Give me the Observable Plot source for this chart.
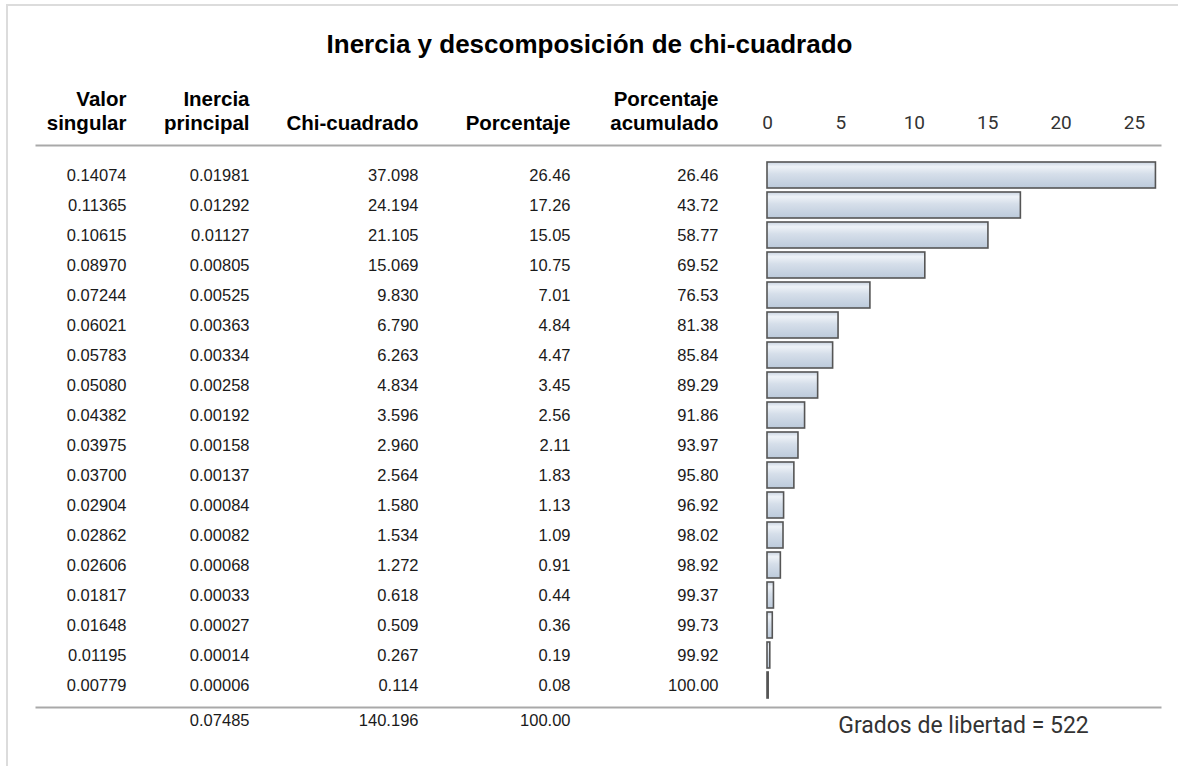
<!DOCTYPE html>
<html>
<head>
<meta charset="utf-8">
<script src="https://cdn.jsdelivr.net/npm/d3@7"></script>
<script src="https://cdn.jsdelivr.net/npm/@observablehq/plot@0.6"></script>
<style>
  html, body { margin: 0; padding: 0; background: #fff; }
  #page { position: relative; width: 1178px; height: 766px; overflow: hidden; }
  #edge { position: absolute; left: 6px; top: 4px; right: -4px; bottom: -4px;
          border-top: 2px solid #dcdcdc; border-left: 2px solid #dcdcdc; }
  #chart { position: absolute; left: 0; top: 0; }
</style>
</head>
<body>
<div id="page"><div id="edge"></div><div id="chart"></div></div>
<script>
// Correspondence analysis: inertia and chi-square decomposition per dimension
const dimensions = [1, 2, 3, 4, 5, 6, 7, 8, 9, 10, 11, 12, 13, 14, 15, 16, 17, 18];
const valorSingular = [0.14074, 0.11365, 0.10615, 0.08970, 0.07244, 0.06021, 0.05783, 0.05080, 0.04382,
                       0.03975, 0.03700, 0.02904, 0.02862, 0.02606, 0.01817, 0.01648, 0.01195, 0.00779];
const inerciaPrincipal = [0.01981, 0.01292, 0.01127, 0.00805, 0.00525, 0.00363, 0.00334, 0.00258, 0.00192,
                          0.00158, 0.00137, 0.00084, 0.00082, 0.00068, 0.00033, 0.00027, 0.00014, 0.00006];
const chiCuadrado = [37.098, 24.194, 21.105, 15.069, 9.830, 6.790, 6.263, 4.834, 3.596,
                     2.960, 2.564, 1.580, 1.534, 1.272, 0.618, 0.509, 0.267, 0.114];
const porcentaje = [26.46, 17.26, 15.05, 10.75, 7.01, 4.84, 4.47, 3.45, 2.56,
                    2.11, 1.83, 1.13, 1.09, 0.91, 0.44, 0.36, 0.19, 0.08];
const porcentajeAcumulado = [26.46, 43.72, 58.77, 69.52, 76.53, 81.38, 85.84, 89.29, 91.86,
                             93.97, 95.80, 96.92, 98.02, 98.92, 99.37, 99.73, 99.92, 100.00];
const totales = ["", "0.07485", "140.196", "100.00", ""];
const gradosLibertad = 522;
const axisTicks = [0, 5, 10, 15, 20, 25];
const titulo = "Inercia y descomposición de chi-cuadrado";
const encabezados = ["Valor\nsingular", "Inercia\nprincipal", "Chi-cuadrado", "Porcentaje", "Porcentaje\nacumulado"];

// Table layout: right edge of each text column, measured from the left margin
const marginLeft = 36;
const columnRight = [90, 213, 382, 534, 682];

const rows = dimensions.map((dim, i) => ({
  dim,
  valor: valorSingular[i],
  inercia: inerciaPrincipal[i],
  chi: chiCuadrado[i],
  pct: porcentaje[i],
  acum: porcentajeAcumulado[i]
}));

const sans = "'Liberation Sans', Arial, sans-serif";
const rowFont = {fontFamily: sans, fontSize: 16.5, fill: "#1a1a1a"};
const headFont = {fontFamily: sans, fontSize: 20.5, fontWeight: "bold", fill: "#000"};

// formatted cells of each body column
const columnFormats = [
  d => d.valor.toFixed(5),
  d => d.inercia.toFixed(5),
  d => d.chi.toFixed(3),
  d => d.pct.toFixed(2),
  d => d.acum.toFixed(2)
];

const bodyMarks = columnFormats.map((fmt, col) =>
  Plot.text(rows, {y: "dim", text: fmt, frameAnchor: "left", textAnchor: "end",
    dx: columnRight[col], ...rowFont}));

const headerMarks = encabezados.map((h, col) =>
  Plot.text([h], {text: d => d, frameAnchor: "top-left", textAnchor: "end", lineAnchor: "bottom",
    dx: columnRight[col], dy: -16, lineHeight: 1.17, ...headFont}));

const totalMarks = totales.map((t, col) => t &&
  Plot.text([t], {text: d => d, frameAnchor: "bottom-left", textAnchor: "end",
    dx: columnRight[col], dy: 18, ...rowFont})).filter(Boolean);

const chart = Plot.plot({
  width: 1178,
  height: 766,
  marginTop: 145,
  marginBottom: 59,
  marginLeft,
  marginRight: 18,
  x: {domain: [0, 25], range: [767, 1134], axis: null},
  y: {domain: dimensions, range: [155, 704], paddingInner: 0.14, paddingOuter: 0.07, axis: null},
  marks: [
    // header and footer rules
    Plot.frame({anchor: "top", stroke: "#a9a9a9", strokeWidth: 2}),
    Plot.frame({anchor: "bottom", stroke: "#a9a9a9", strokeWidth: 2}),
    // percentage bars
    Plot.barX(rows, {x: "pct", y: "dim", fill: "url(#barFill)", stroke: "#555", strokeWidth: 1.6}),
    Plot.axisX(axisTicks, {anchor: "top", tickSize: 0, tickPadding: 17, tickFormat: d3.format("d"),
      fontFamily: "Roboto, sans-serif", fontSize: 19, fill: "#333", label: null}),
    ...bodyMarks,
    ...headerMarks,
    ...totalMarks,
    // title
    Plot.text([titulo], {text: d => d, frameAnchor: "top-left", textAnchor: "middle",
      dx: 553, dy: -111, fontFamily: sans, fontSize: 26, fontWeight: "bold", fill: "#000"}),
    Plot.text([`Grados de libertad = ${gradosLibertad}`], {text: d => d, frameAnchor: "bottom-left",
      textAnchor: "middle", dx: 927, dy: 25, fontFamily: "Roboto, sans-serif", fontSize: 23, fill: "#333"})
  ]
});

// gradient fill for the bars
const svg = d3.select(chart);
const grad = svg.insert("defs", ":first-child").append("linearGradient")
  .attr("id", "barFill").attr("x1", 0).attr("y1", 0).attr("x2", 0).attr("y2", 1);
[["0%", "#c9d4e2"], ["18%", "#eef2f7"], ["45%", "#d6dfea"], ["100%", "#bccadb"]]
  .forEach(([o, c]) => grad.append("stop").attr("offset", o).attr("stop-color", c));

document.getElementById("chart").appendChild(chart);
</script>
</body>
</html>
